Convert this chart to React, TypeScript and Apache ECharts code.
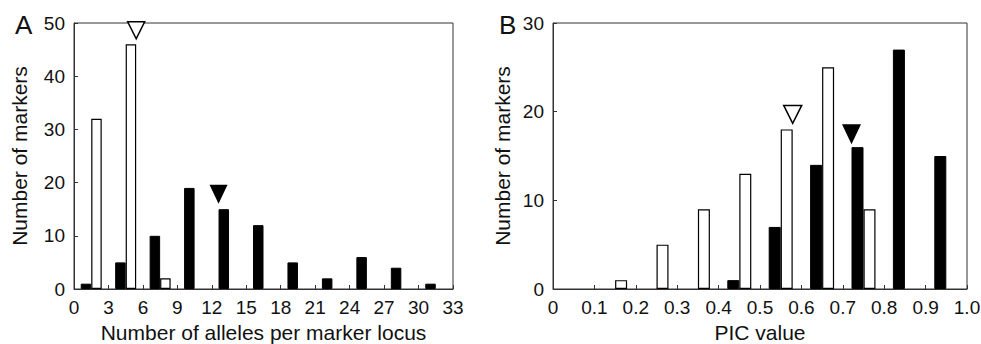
import React, { useEffect, useRef } from "react";
import * as echarts from "echarts";

// Panel A: number of alleles per marker locus (bins of width 3)
const alleleBins = ["0-3", "3-6", "6-9", "9-12", "12-15", "15-18", "18-21", "21-24", "24-27", "27-30", "30-33"];
const alleleBlack = [1, 5, 10, 19, 15, 12, 5, 2, 6, 4, 1];
const alleleWhite = [32, 46, 2, 0, 0, 0, 0, 0, 0, 0, 0];
const alleleWhiteMarkerBin = 1;
const alleleBlackMarkerBin = 4;

// Panel B: PIC value (bins of width 0.1)
const picBins = ["0-0.1", "0.1-0.2", "0.2-0.3", "0.3-0.4", "0.4-0.5", "0.5-0.6", "0.6-0.7", "0.7-0.8", "0.8-0.9", "0.9-1.0"];
const picBlack = [0, 0, 0, 0, 1, 7, 14, 16, 27, 15];
const picWhite = [0, 1, 5, 9, 13, 18, 25, 9, 0, 0];
const picWhiteMarkerBin = 5;
const picBlackMarkerBin = 7;

const FONT = "'Liberation Sans', Arial, Helvetica, sans-serif";
const INK = "#111";
const LINE = "#333";

const nz = (arr: number[]) => arr.map((v) => (v === 0 ? null : v));

export default function App() {
  const ref = useRef<HTMLDivElement>(null);
  useEffect(() => {
    if (!ref.current) return;
    const chart = echarts.init(ref.current, null, { renderer: "svg" });

    const valueXAxis = (gridIndex: number, max: number, interval: number, fmt: (v: number) => string, name: string) => ({
      type: "value",
      gridIndex,
      min: 0,
      max,
      interval,
      position: "bottom",
      axisLine: { show: true, lineStyle: { color: LINE, width: 1 } },
      axisTick: { show: true, inside: true, length: 4, lineStyle: { color: LINE } },
      splitLine: { show: false },
      axisLabel: { color: INK, fontSize: 19, fontFamily: FONT, margin: 9, formatter: fmt },
      name,
      nameLocation: "middle",
      nameGap: 32,
      nameTextStyle: { color: INK, fontSize: 21, fontFamily: FONT },
    });

    const catXAxis = (gridIndex: number, data: string[]) => ({
      type: "category",
      gridIndex,
      data,
      show: false,
      boundaryGap: true,
    });

    const yAxis = (gridIndex: number, max: number, nameGap: number) => ({
      type: "value",
      gridIndex,
      min: 0,
      max,
      interval: 10,
      axisLine: { show: true, lineStyle: { color: LINE, width: 1 } },
      axisTick: { show: true, inside: true, length: 4, lineStyle: { color: LINE } },
      splitLine: { show: false },
      axisLabel: { color: INK, fontSize: 19, fontFamily: FONT, margin: 9 },
      name: "Number of markers",
      nameLocation: "middle",
      nameGap,
      nameTextStyle: { color: INK, fontSize: 21, fontFamily: FONT },
    });

    const tri = (bin: number, value: number, dx: number, dy: number, fill: string, size: number[]) => ({
      coord: [bin, value],
      symbol: "triangle",
      symbolRotate: 180,
      symbolSize: size,
      symbolOffset: [dx, dy],
      itemStyle: { color: fill, borderColor: "#000", borderWidth: fill === "#fff" ? 1.5 : 0 },
      label: { show: false },
    });

    const barA = 10.5;
    const barB = 12;

    chart.setOption({
      animation: false,
      backgroundColor: "#fff",
      title: [
        { text: "A", left: 10, top: 7, textStyle: { fontSize: 26, fontWeight: "normal", color: INK, fontFamily: FONT } },
        { text: "B", left: 494, top: 7, textStyle: { fontSize: 26, fontWeight: "normal", color: INK, fontFamily: FONT } },
      ],
      grid: [
        { left: 74, right: 528, top: 23, bottom: 55, show: true, borderColor: LINE, borderWidth: 1, backgroundColor: "transparent", containLabel: false, outerBoundsMode: "none" },
        { left: 553, right: 14, top: 23, bottom: 55, show: true, borderColor: LINE, borderWidth: 1, backgroundColor: "transparent", containLabel: false, outerBoundsMode: "none" },
      ],
      xAxis: [
        catXAxis(0, alleleBins),
        valueXAxis(0, 33, 3, (v: number) => String(v), "Number of alleles per marker locus"),
        catXAxis(1, picBins),
        valueXAxis(1, 1, 0.1, (v: number) => (v === 0 ? "0" : v.toFixed(1)), "PIC value"),
      ],
      yAxis: [yAxis(0, 50, 44), yAxis(1, 30, 40)],
      series: [
        {
          type: "bar",
          xAxisIndex: 0,
          yAxisIndex: 0,
          data: nz(alleleBlack),
          barWidth: barA,
          barGap: "0%",
          itemStyle: { color: "#000", borderColor: "#000", borderWidth: 1 },
          markPoint: {
            data: [tri(alleleBlackMarkerBin, alleleBlack[alleleBlackMarkerBin], -barA / 2, -15, "#000", [18, 19])],
          },
        },
        {
          type: "bar",
          xAxisIndex: 0,
          yAxisIndex: 0,
          data: nz(alleleWhite),
          barWidth: barA,
          barGap: "0%",
          itemStyle: { color: "#fff", borderColor: "#000", borderWidth: 1.2 },
          markPoint: {
            data: [tri(alleleWhiteMarkerBin, alleleWhite[alleleWhiteMarkerBin], barA / 2, -14, "#fff", [17, 17])],
          },
        },
        {
          type: "bar",
          xAxisIndex: 2,
          yAxisIndex: 1,
          data: nz(picBlack),
          barWidth: barB,
          barGap: "0%",
          itemStyle: { color: "#000", borderColor: "#000", borderWidth: 1 },
          markPoint: {
            data: [tri(picBlackMarkerBin, picBlack[picBlackMarkerBin], -barB / 2, -13, "#000", [19, 20])],
          },
        },
        {
          type: "bar",
          xAxisIndex: 2,
          yAxisIndex: 1,
          data: nz(picWhite),
          barWidth: barB,
          barGap: "0%",
          itemStyle: { color: "#fff", borderColor: "#000", borderWidth: 1.2 },
          markPoint: {
            data: [tri(picWhiteMarkerBin, picWhite[picWhiteMarkerBin], barB / 2, -15, "#fff", [18, 18])],
          },
        },
      ],
    });
    return () => chart.dispose();
  }, []);

  return <div ref={ref} style={{ width: 981, height: 344, position: "absolute", left: 0, top: 0, background: "#fff" }} />;
}
